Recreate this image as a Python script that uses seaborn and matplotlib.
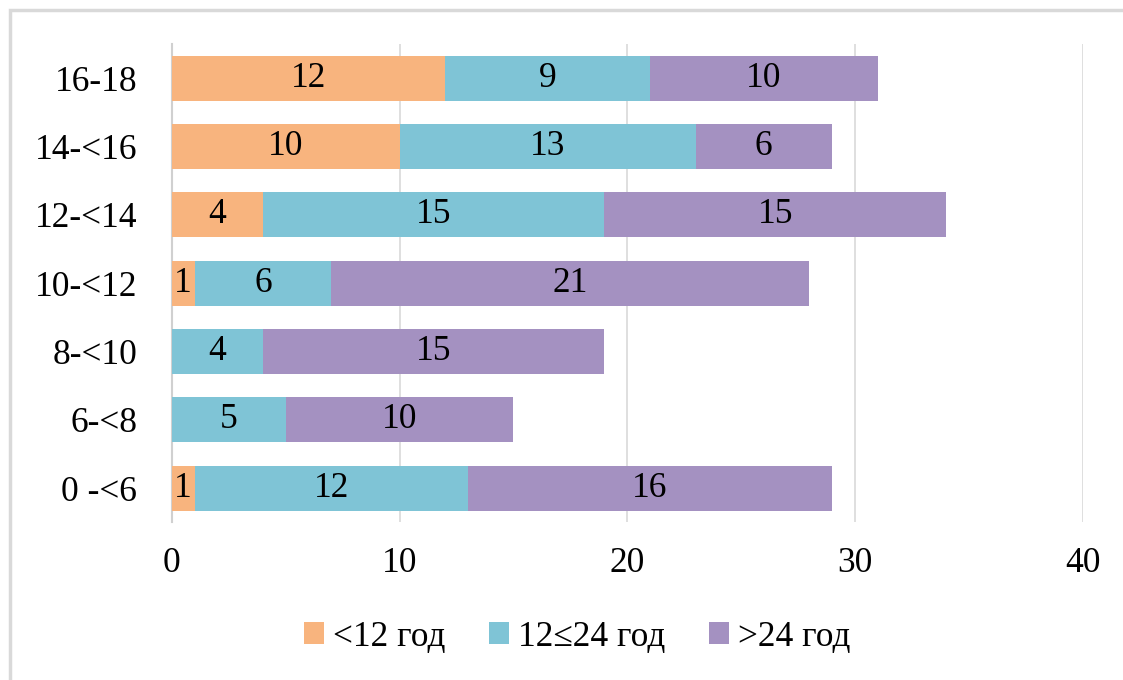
import matplotlib
matplotlib.use("Agg")
import matplotlib.pyplot as plt
import seaborn as sns
import pandas as pd
import numpy as np
from matplotlib.patches import Rectangle, Patch

categories = ["16-18", "14-<16", "12-<14", "10-<12", "8-<10", "6-<8", "0 -<6"]
lt12 = [12, 10, 4, 1, 0, 0, 1]
mid = [9, 13, 15, 6, 4, 5, 12]
gt24 = [10, 6, 15, 21, 15, 10, 16]
series_names = ["<12 год", "12≤24 год", ">24 год"]
colors = ["#F8B47E", "#7FC4D6", "#A491C1"]

sns.set_theme(style="white")
plt.rcParams["font.family"] = ["Liberation Serif", "DejaVu Serif"]
plt.rcParams["text.color"] = "black"

fig = plt.figure(figsize=(11.23, 6.8), dpi=100)
ax = fig.add_axes([0.153, 0.232, 0.811, 0.703])

s1 = np.array(lt12)
s2 = s1 + np.array(mid)
s3 = s2 + np.array(gt24)

df = pd.DataFrame({"cat": categories, "c1": s1, "c2": s2, "c3": s3})
for col, color in zip(["c3", "c2", "c1"], colors[::-1]):
    sns.barplot(data=df, x=col, y="cat", order=categories, color=color,
                width=0.66, saturation=1, ax=ax, orient="h", zorder=3,
                linewidth=0, edgecolor="none")

FS = 25.5
for i in range(len(categories)):
    starts = [0, s1[i], s2[i]]
    vals = [lt12[i], mid[i], gt24[i]]
    for st, v in zip(starts, vals):
        if v > 0:
            ax.text(st + v / 2, i, str(v), ha="center", va="center",
                    fontsize=FS, color="black", zorder=5)

ax.set_xlim(0, 40)
ax.set_ylim(6.5, -0.5)
ax.set_xticks([0, 10, 20, 30, 40])
ax.set_xlabel("")
ax.set_ylabel("")
ax.xaxis.grid(True, color="#D9D9D9", linewidth=1.2, zorder=0)
ax.set_axisbelow(True)
for sp in ["top", "right", "bottom"]:
    ax.spines[sp].set_visible(False)
ax.spines["left"].set_color("#D0D0D0")
ax.spines["left"].set_linewidth(1.5)
ax.tick_params(axis="both", length=0, labelsize=FS, colors="black")
ax.tick_params(axis="y", pad=25)
ax.tick_params(axis="x", pad=18)

handles = [Patch(facecolor=c, edgecolor="none") for c in colors]
fig.legend(handles, series_names, loc="center", bbox_to_anchor=(0.514, 0.063),
           ncol=3, frameon=False, fontsize=FS, handlelength=0.55, handleheight=0.55,
           handletextpad=0.25, columnspacing=1.25, labelcolor="black")

fig.patches.append(Rectangle((10 / 1123, -0.1), 1.2, 1 - 10 / 680 + 0.1,
                             transform=fig.transFigure, fill=False,
                             edgecolor="#D9D9D9", linewidth=2.5))

fig.savefig("out.png", dpi=100)
